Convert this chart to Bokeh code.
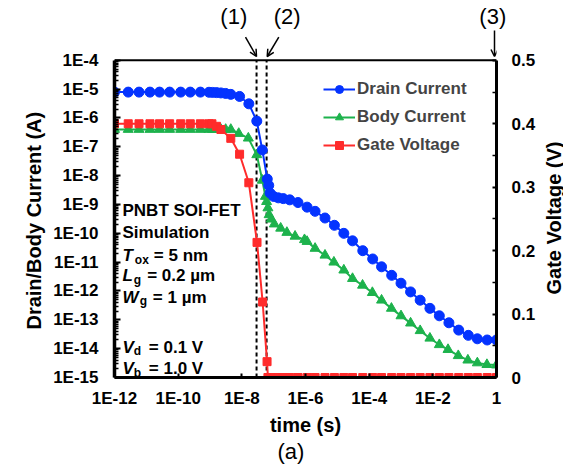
import math
from bokeh.plotting import figure
from bokeh.layouts import row
from bokeh.models import (Range1d, LinearAxis, LogAxis, LinearScale, FixedTicker,
                          CustomJSTickFormatter, Label, Arrow, OpenHead, Legend,
                          LegendItem, Title)
from bokeh.embed import file_html
from bokeh.resources import INLINE

# ---------------- data ----------------
drain_time = [1.0e-12, 2.7e-12, 5.9e-12, 1.3e-11, 2.6e-11, 5.4e-11, 1.2e-10, 2.4e-10,
              5.0e-10, 9.3e-10, 1.2e-9, 1.6e-9, 2.2e-9, 3.1e-9, 4.5e-9, 8.5e-9,
              1.66e-8, 2.95e-8, 4.4e-8, 6.3e-8, 7.0e-8, 7.7e-8, 1.0e-7, 1.4e-7,
              2.0e-7, 3.2e-7, 5.8e-7, 1.12e-6, 2.0e-6, 4.1e-6, 8.1e-6, 1.6e-5,
              3.0e-5, 6.3e-5, 1.29e-4, 2.45e-4, 5.1e-4, 1.0e-3, 2.0e-3, 4.0e-3,
              8.1e-3, 1.6e-2, 3.2e-2, 6.5e-2, 0.13, 0.25, 0.51, 1.0]
drain_current = [7.9e-6, 7.9e-6, 7.9e-6, 7.9e-6, 7.9e-6, 7.9e-6, 7.9e-6, 7.9e-6,
                 7.9e-6, 7.8e-6, 7.7e-6, 7.6e-6, 7.4e-6, 7.1e-6, 6.6e-6, 5.6e-6,
                 3.1e-6, 7.8e-7, 7.8e-8, 7.6e-9, 4.6e-9, 2.5e-9, 1.9e-9, 1.7e-9,
                 1.6e-9, 1.45e-9, 1.17e-9, 8.1e-10, 5.8e-10, 3.4e-10, 1.9e-10, 1.0e-10,
                 5.5e-11, 2.5e-11, 1.29e-11, 6.9e-12, 3.5e-12, 1.86e-12, 9.3e-13, 4.8e-13,
                 2.5e-13, 1.38e-13, 7.9e-14, 4.4e-14, 2.9e-14, 2.2e-14, 2.0e-14, 2.0e-14]

body_time = [1.0e-12, 2.7e-12, 5.9e-12, 1.3e-11, 2.6e-11, 5.4e-11, 1.2e-10, 2.4e-10,
             5.0e-10, 9.3e-10, 1.2e-9, 1.6e-9, 2.2e-9, 3.1e-9, 4.5e-9, 8.0e-9,
             1.6e-8, 2.95e-8, 4.4e-8, 5.5e-8, 6.0e-8, 6.6e-8, 7.2e-8, 8.3e-8,
             1.05e-7, 1.66e-7, 2.6e-7, 4.7e-7, 9.3e-7, 1.12e-6, 2.0e-6, 4.1e-6,
             7.8e-6, 1.6e-5, 3.0e-5, 6.2e-5, 1.26e-4, 2.45e-4, 5.0e-4, 1.0e-3,
             2.0e-3, 4.0e-3, 8.1e-3, 1.6e-2, 3.0e-2, 6.3e-2, 0.126, 0.25, 0.5, 1.0]
body_current = [4.0e-7, 4.0e-7, 4.0e-7, 4.0e-7, 4.0e-7, 4.0e-7, 4.0e-7, 4.0e-7,
                4.0e-7, 4.0e-7, 4.0e-7, 4.0e-7, 4.0e-7, 4.0e-7, 4.0e-7, 2.9e-7,
                2.0e-7, 5.3e-8, 6.9e-9, 1.9e-9, 1.26e-9, 7.6e-10, 4.4e-10, 3.1e-10,
                2.1e-10, 1.5e-10, 1.07e-10, 7.9e-11, 6.0e-11, 5.2e-11, 3.0e-11, 1.74e-11,
                1.0e-11, 5.3e-12, 2.7e-12, 1.58e-12, 8.8e-13, 4.8e-13, 2.5e-13, 1.37e-13,
                7.7e-14, 4.2e-14, 2.3e-14, 1.37e-14, 9.3e-15, 5.7e-15, 4.0e-15, 3.2e-15,
                2.8e-15, 2.7e-15]

gate_time = [1.0e-12, 2.7e-12, 5.9e-12, 1.3e-11, 2.6e-11, 5.4e-11, 1.2e-10, 2.4e-10,
             5.0e-10, 9.3e-10, 1.15e-9, 1.6e-9, 2.2e-9, 4.5e-9, 8.5e-9, 1.66e-8,
             3.0e-8, 4.5e-8, 6.2e-8, 6.6e-8, 7.7e-8, 1.0e-7, 1.4e-7, 2.0e-7,
             3.2e-7, 5.8e-7, 1.12e-6, 2.0e-6, 4.1e-6, 8.1e-6, 1.6e-5, 3.0e-5,
             6.3e-5, 1.29e-4, 2.45e-4, 5.1e-4, 1.0e-3, 2.0e-3, 4.0e-3, 8.1e-3,
             1.6e-2, 3.2e-2, 6.5e-2, 0.13, 0.25, 0.51, 1.0]
gate_voltage = [0.40, 0.40, 0.40, 0.40, 0.40, 0.40, 0.40, 0.40,
                0.40, 0.40, 0.40, 0.396, 0.391, 0.377, 0.352, 0.307,
                0.213, 0.119, 0.025, 0.0, 0.0, 0.0, 0.0, 0.0,
                0.0, 0.0, 0.0, 0.0, 0.0, 0.0, 0.0, 0.0,
                0.0, 0.0, 0.0, 0.0, 0.0, 0.0, 0.0, 0.0,
                0.0, 0.0, 0.0, 0.0, 0.0, 0.0, 0.0]

marker_times = [2.9e-8, 6.0e-8]            # dashed lines (1) and (2)
annotation_texts = ["(1)", "(2)", "(3)"]
series_names = ["Drain Current", "Body Current", "Gate Voltage"]

x_ticks = [1e-12, 1e-10, 1e-8, 1e-6, 1e-4, 1e-2, 1.0]
y_ticks = [1e-15, 1e-14, 1e-13, 1e-12, 1e-11, 1e-10, 1e-9, 1e-8, 1e-7, 1e-6, 1e-5, 1e-4]
v_ticks = [0.0, 0.1, 0.2, 0.3, 0.4, 0.5]
v_minor = [0.05, 0.15, 0.25, 0.35, 0.45]

info_lines = ["PNBT SOI-FET", "Simulation"]
param_lines = [("T", "ox", "= 5 nm"), ("L", "g", "= 0.2 µm"), ("W", "g", "= 1 µm"),
               ("V", "d", "= 0.1 V"), ("V", "b", "= 1.0 V")]

# ---------------- layout / styling ----------------
FONT = "Liberation Sans"
BLUE = "#0433FF"
GREEN = "#1DB24C"
RED = "#FF2B2B"
PAD = "\u00a0" * 6          # recentres the left axis title on the plot box

W, H = 563, 465
STRIP = 24                                         # right strip holding "Gate Voltage (V)"
MAIN_W = W - STRIP
LEFT, RIGHT, TOP_LINE, BOTTOM = 114, 496, 58, 377   # plot box on the canvas
TOP = 28                                           # frame extends above the box
x_lo, x_hi = x_ticks[0], x_ticks[-1]
y_lo, y_hi = y_ticks[0], y_ticks[-1]
px_dec_y = (BOTTOM - TOP_LINE) / (math.log10(y_hi) - math.log10(y_lo))
px_dec_x = (RIGHT - LEFT) / (math.log10(x_hi) - math.log10(x_lo))
y_top = 10 ** (math.log10(y_hi) + (TOP_LINE - TOP) / px_dec_y)
v_top = v_ticks[-1] * (BOTTOM - TOP) / (BOTTOM - TOP_LINE)

p = figure(width=MAIN_W, height=H, x_axis_type="log", y_axis_type="log",
           x_range=Range1d(x_lo, x_hi), y_range=Range1d(y_lo, y_top),
           output_backend="svg", toolbar_location=None,
           min_border_left=LEFT, min_border_right=MAIN_W - RIGHT, min_border_top=TOP,
           min_border_bottom=H - BOTTOM)
p.grid.visible = False
p.outline_line_color = None
p.background_fill_color = "white"
p.border_fill_color = "white"

p.extra_y_ranges = {"v": Range1d(0, v_top)}
p.extra_y_scales = {"v": LinearScale()}

def style_axis(ax, lw):
    ax.axis_line_width = lw
    ax.axis_line_color = "black"
    ax.major_tick_line_color = "black"
    ax.minor_tick_line_color = "black"
    ax.major_tick_line_width = 2
    ax.minor_tick_line_width = 1.5
    ax.major_tick_out = 0
    ax.minor_tick_out = 0
    ax.major_label_text_font = FONT
    ax.major_label_text_font_size = "17px"
    ax.major_label_text_font_style = "bold"
    ax.major_label_text_color = "black"
    ax.axis_label_text_font = FONT
    ax.axis_label_text_font_size = "20px"
    ax.axis_label_text_font_style = "bold"
    ax.axis_label_text_color = "black"

xa = p.xaxis[0]
xa.ticker = FixedTicker(ticks=x_ticks, minor_ticks=[])
xa.formatter = CustomJSTickFormatter(
    code="const e = Math.round(Math.log10(tick)); return e == 0 ? '1' : '1E' + e;")
style_axis(xa, 3)
xa.major_tick_in = 4
xa.major_label_standoff = 11
xa.axis_label = "time (s)"
xa.axis_label_standoff = 3

ya = p.yaxis[0]
y_minor = [m * t for t in y_ticks[:-1] for m in range(2, 10)]
ya.ticker = FixedTicker(ticks=y_ticks, minor_ticks=y_minor)
ya.formatter = CustomJSTickFormatter(
    code="const e = Math.round(Math.log10(tick)); return '1E' + e;")
style_axis(ya, 3.5)
ya.bounds = (y_lo, y_hi)
ya.major_tick_in = 6
ya.minor_tick_in = 4
ya.major_label_standoff = 16
ya.axis_label = "Drain/Body Current (A)" + PAD
ya.axis_label_standoff = 5

ra = LinearAxis(y_range_name="v",
                ticker=FixedTicker(ticks=v_ticks, minor_ticks=v_minor),
                formatter=CustomJSTickFormatter(
                    code="return tick == 0 ? '0' : tick.toFixed(1);"))
style_axis(ra, 3)
ra.bounds = (v_ticks[0], v_ticks[-1])
ra.major_tick_in = 4
ra.minor_tick_in = 4
ra.major_label_standoff = 15
p.add_layout(ra, "right")

# annotation labels (1) (2) (3) as tick labels of a bare top axis
canvas_x = [233.3, 286.7, 492.3]
annot_x = [10 ** (math.log10(x_lo) + (cx - LEFT) / px_dec_x) for cx in canvas_x]
ta = LogAxis(ticker=FixedTicker(ticks=annot_x, minor_ticks=[]),
             formatter=CustomJSTickFormatter(args=dict(names=annotation_texts),
                                             code="return names[index];"))
ta.axis_line_color = None
ta.major_tick_line_color = None
ta.minor_tick_line_color = None
ta.major_tick_out = 0
ta.major_tick_in = 0
ta.major_label_standoff = 2
ta.major_label_text_font = FONT
ta.major_label_text_font_size = "22px"
ta.major_label_text_font_style = "normal"
ta.major_label_text_color = "black"
p.add_layout(ta, "above")

# top edge of the plot box and the two dashed time markers
p.segment(x0=[x_lo], y0=[y_hi], x1=[x_hi], y1=[y_hi], line_color="black", line_width=2)
p.segment(x0=marker_times, y0=[y_lo] * len(marker_times), x1=marker_times,
          y1=[y_hi] * len(marker_times), line_color="black", line_width=2,
          line_dash="4 3")

# ---------------- series ----------------
g_line = p.line(body_time, body_current, line_color=GREEN, line_width=2)
g_pts = p.scatter(body_time, body_current, marker="triangle", size=10,
                  fill_color=GREEN, line_color=GREEN)
r_line = p.line(gate_time, gate_voltage, y_range_name="v", line_color=RED, line_width=2)
r_pts = p.scatter(gate_time, gate_voltage, y_range_name="v", marker="square", size=8,
                  fill_color=RED, line_color=RED)
b_line = p.line(drain_time, drain_current, line_color=BLUE, line_width=2)
b_pts = p.scatter(drain_time, drain_current, marker="circle", size=10,
                  fill_color=BLUE, line_color=BLUE)

legend = Legend(items=[LegendItem(label=series_names[0], renderers=[b_line, b_pts]),
                       LegendItem(label=series_names[1], renderers=[g_line, g_pts]),
                       LegendItem(label=series_names[2], renderers=[r_line, r_pts])],
                location=(209, 222))
legend.border_line_alpha = 0
legend.background_fill_alpha = 0
legend.label_text_font = FONT
legend.label_text_font_size = "17px"
legend.label_text_font_style = "bold"
legend.glyph_width = 32
legend.glyph_height = 20
legend.label_height = 20
legend.spacing = 8
legend.padding = 0
legend.margin = 0
legend.label_standoff = 2
p.add_layout(legend)

# ---------------- texts inside the plot box ----------------
def lab(fig, x, y, text, size="17px", style="bold", align="left",
        baseline="alphabetic", angle=0.0):
    fig.add_layout(Label(x=x, y=y, x_units="screen", y_units="screen", text=text,
                         text_font=FONT, text_font_size=size, text_font_style=style,
                         text_color="black", text_align=align, text_baseline=baseline,
                         angle=angle))

lab(p, 8, 167, info_lines[0])
lab(p, 8, 145.3, info_lines[1])
param_pos = [(122, 20.3, 39.3), (102, 19.3, 32.7), (80.3, 25.3, 38.3),
             (30.3, 19.3, 34.3), (8.7, 19.3, 34.3)]
for (sym, sub, rest), (yb, xs, xr) in zip(param_lines, param_pos):
    lab(p, 8, yb, sym, style="bold italic")
    lab(p, xs, yb - 4, sub, size="12px")
    lab(p, xr, yb, rest)

# arrows pointing at the dashed markers and at the end of the time axis
arrows = [((245, 36.7), (256, 56)), ((278.3, 36.7), (266.7, 56)),
          ((494, TOP + 1), (494, 56))]
for (x0, y0), (x1, y1) in arrows:
    p.add_layout(Arrow(x_start=x0 - LEFT, y_start=BOTTOM - y0,
                       x_end=x1 - LEFT, y_end=BOTTOM - y1,
                       start_units="screen", end_units="screen",
                       line_color="black", line_width=1.5,
                       end=OpenHead(size=7, line_color="black", line_width=1.5)))

# panel label "(a)" below the x-axis title
p.add_layout(Title(text="(a)", align="left", offset=163, standoff=0,
                   vertical_align="top",
                   text_font=FONT, text_font_size="22px", text_font_style="normal",
                   text_color="black"), "below")

# ---------------- right strip with the secondary axis title ----------------
strip = figure(width=STRIP, height=H, x_range=Range1d(0, STRIP), y_range=Range1d(0, H),
               output_backend="svg", toolbar_location=None, min_border=0,
               x_axis_location=None, y_axis_location=None)
strip.grid.visible = False
strip.outline_line_color = None
strip.background_fill_color = "white"
strip.border_fill_color = "white"
# the strip's frame is aligned with the main frame (bottom edge at canvas y = BOTTOM)
lab(strip, 553 - MAIN_W, BOTTOM - 217.5, "Gate Voltage (V)", size="20px", align="center",
    baseline="middle", angle=math.pi / 2)

open("out.html", "w").write(file_html(row(p, strip), INLINE))
